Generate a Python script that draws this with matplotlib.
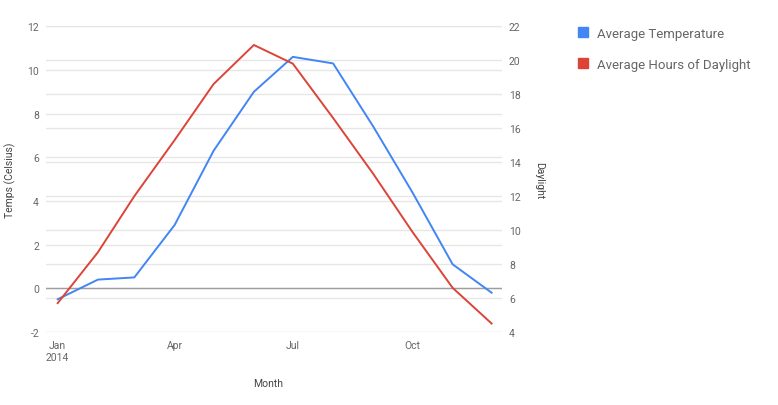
import datetime as dt
import matplotlib
matplotlib.use("Agg")
import matplotlib.pyplot as plt
import matplotlib.dates as mdates
from matplotlib.lines import Line2D

# data
months = [dt.date(2014, m, 1) for m in range(1, 13)]
avg_temp = [-0.5, 0.4, 0.5, 2.9, 6.3, 9.0, 10.6, 10.3, 7.4, 4.4, 1.1, -0.2]
avg_daylight = [5.7, 8.7, 12.0, 15.3, 18.6, 20.9, 19.8, 16.6, 13.3, 9.9, 6.6, 4.5]
series_names = ["Average Temperature", "Average Hours of Daylight"]

left_ticks = [-2, 0, 2, 4, 6, 8, 10, 12]
right_ticks = [4, 6, 8, 10, 12, 14, 16, 18, 20, 22]
x_tick_dates = [dt.date(2014, 1, 1), dt.date(2014, 4, 1), dt.date(2014, 7, 1), dt.date(2014, 10, 1)]
x_tick_labels = ["Jan\n2014", "Apr", "Jul", "Oct"]

BLUE = "#4285f4"
RED = "#db4437"
GRID = "#e6e6e6"
TXT = "#666666"

plt.rcParams["font.family"] = ["Roboto", "DejaVu Sans"]

W, H = 778, 406
fig = plt.figure(figsize=(W / 100, H / 100), dpi=100)
x0, x1, y0, y1 = 46, 502, 27.3, 333
ax = fig.add_axes([x0 / W, (H - y1) / H, (x1 - x0) / W, (y1 - y0) / H])
ax2 = ax.twinx()

lmin, lmax = -2, 12
rmin, rmax = 4, 22
ax.set_ylim(lmin, lmax)
ax2.set_ylim(rmin, rmax)
ax.set_xlim(mdates.date2num(dt.date(2013, 12, 23)), mdates.date2num(dt.date(2014, 12, 9)))

# gridlines for both axes, drawn under the data
for v in left_ticks:
    ax.axhline(v, color=GRID, lw=1, zorder=0)
for v in right_ticks:
    vl = lmin + (v - rmin) * (lmax - lmin) / (rmax - rmin)
    ax.axhline(vl, color=GRID, lw=1, zorder=0)
ax.axhline(0, color="#9e9e9e", lw=1, zorder=1)

ax.plot(months, avg_temp, color=BLUE, lw=1.4, zorder=3)
ax2.plot(months, avg_daylight, color=RED, lw=1.4, zorder=3)

for a in (ax, ax2):
    for s in a.spines.values():
        s.set_visible(False)
    a.tick_params(length=0, labelsize=7.5, labelcolor=TXT)

ax.set_yticks(left_ticks)
ax.set_yticklabels([str(v) for v in left_ticks])
ax.tick_params(axis="y", pad=5)
ax2.set_yticks(right_ticks)
ax2.set_yticklabels([str(v) for v in right_ticks])
ax2.tick_params(axis="y", pad=5)

ax.set_xticks([mdates.date2num(d) for d in x_tick_dates])
ax.set_xticklabels(x_tick_labels, multialignment="center")
ax.tick_params(axis="x", pad=6)

ax.set_xlabel("Month", fontsize=7.5, color="#444444")
ax.xaxis.set_label_coords((268 - x0) / (x1 - x0), (y1 - 384) / (y1 - y0))
ax.xaxis.label.set_va("center")
ax.set_ylabel("Temps (Celsius)", fontsize=7.5, color="#444444")
ax.yaxis.set_label_coords((10 - x0) / (x1 - x0), 0.5)
ax.yaxis.label.set_va("center")
ax2.set_ylabel("Daylight", fontsize=7.5, color="#444444", rotation=270)
ax2.yaxis.set_label_coords((539 - x0) / (x1 - x0), 0.5)
ax2.yaxis.label.set_va("center")

handles = [Line2D([], [], ls="", marker="s", markersize=7.2, color=c) for c in (BLUE, RED)]
fig.legend(handles, series_names, loc="upper left", bbox_to_anchor=(578 / W, 1 - 28 / H),
           frameon=False, fontsize=9.5, labelcolor=TXT, handlelength=0.8,
           handletextpad=0.65, labelspacing=1.35, borderpad=0, borderaxespad=0)

fig.savefig("out.png", dpi=100)
